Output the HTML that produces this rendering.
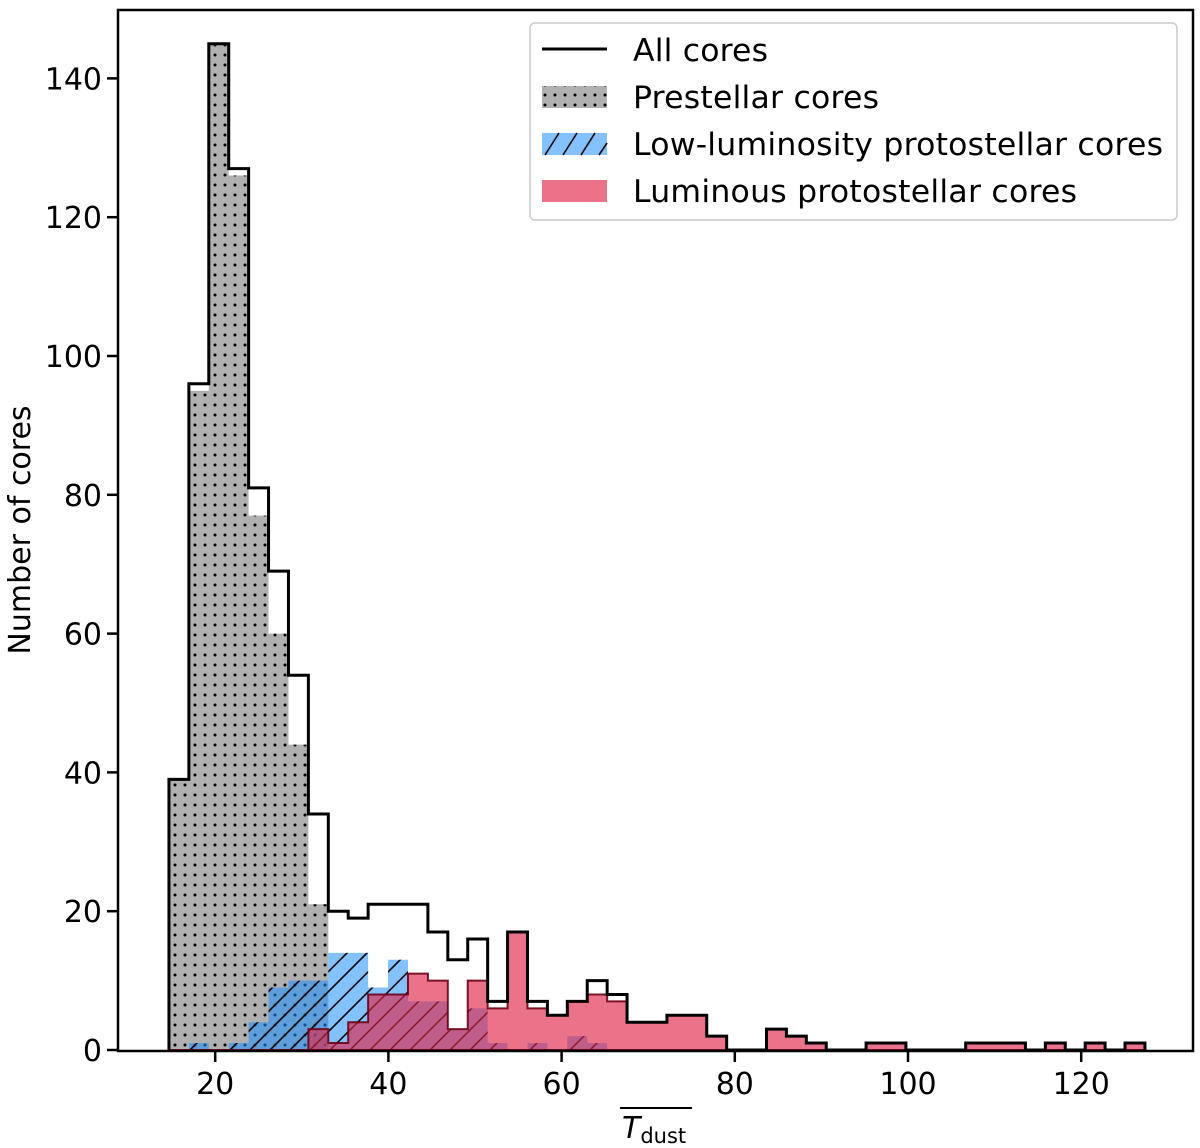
<!DOCTYPE html>
<html><head><meta charset="utf-8"><style>
html,body{margin:0;padding:0;background:#fff;}
svg{display:block;font-family:"DejaVu Sans","Liberation Sans",sans-serif;}
</style></head><body>
<svg id="chart" width="1200" height="1148" viewBox="0 0 1200 1148">
<defs>
<pattern id="dots" width="10" height="10" patternUnits="userSpaceOnUse"><circle cx="5" cy="5" r="1.5" fill="#000"/></pattern>
<pattern id="hatch" width="20" height="20" patternUnits="userSpaceOnUse"><path d="M-5,5 L5,-5 M0,20 L20,0 M15,25 L25,15" stroke="#000" stroke-width="1.6"/></pattern>
<pattern id="dotsL" width="10" height="10" patternUnits="userSpaceOnUse"><circle cx="5" cy="5" r="1.5" fill="#000"/></pattern>
</defs>
<g id="plot"></g>
</svg>
<script>
const binStart = 14.66;
const binWidth = 2.30;
const allCores = [39,96,145,127,81,69,54,34,20,19,21,21,21,17,13,16,7,17,7,5,7,10,8,4,4,5,5,2,0,0,3,2,1,0,0,1,1,0,0,0,1,1,1,0,1,0,1,0,1];
const prestellar = [39,95,145,126,77,60,44,21,0,0,0,0,0,0,0,0,0,0,0,0,0,0,0,0,0,0,0,0,0,0,0,0,0,0,0,0,0,0,0,0,0,0,0,0,0,0,0,0,0];
const lowLum = [0,1,0,1,4,9,10,10,14,14,9,13,7,7,3,6,1,0,1,0,2,1,0,0,0,0,0,0,0,0,0,0,0,0,0,0,0,0,0,0,0,0,0,0,0,0,0,0,0];
const luminous = [0,0,0,0,0,0,0,3,1,4,8,8,11,10,3,10,6,17,6,5,7,8,7,4,4,5,5,2,0,0,3,2,1,0,0,1,1,0,0,0,1,1,1,0,1,0,1,0,1];
const xTicks = [20,40,60,80,100,120];
const yTicks = [0,20,40,60,80,100,120,140];

const L=118,R=1193,T=10,B=1051;
const xs = v => 42 + v*8.66;
const ys = v => 1050 - v*6.94;
const NS="http://www.w3.org/2000/svg";
const g=document.getElementById('plot');
function mk(tag,attrs,parent){const e=document.createElementNS(NS,tag);for(const k in attrs)e.setAttribute(k,attrs[k]);(parent||g).appendChild(e);return e;}

function stepPath(vals){
  let d='M'+xs(binStart)+','+ys(0);
  vals.forEach((v,i)=>{const x0=xs(binStart+i*binWidth),x1=xs(binStart+(i+1)*binWidth);d+=' L'+x0+','+ys(v)+' L'+x1+','+ys(v);});
  d+=' L'+xs(binStart+vals.length*binWidth)+','+ys(0)+' Z';
  return d;
}
let p=mk('path',{d:stepPath(prestellar),fill:'#b0b0b0'});


mk('path',{d:stepPath(prestellar),fill:'url(#dots)'});
p=mk('path',{d:stepPath(lowLum),fill:'rgba(30,144,255,0.55)'});


mk('path',{d:stepPath(lowLum),fill:'url(#hatch)'});
p=mk('path',{d:stepPath(luminous),fill:'rgba(222,40,75,0.65)',stroke:'rgba(110,0,20,0.9)','stroke-width':2});


(function(){
  let d='M'+xs(binStart)+','+ys(0);
  allCores.forEach((v,i)=>{const x0=xs(binStart+i*binWidth),x1=xs(binStart+(i+1)*binWidth);d+=' L'+x0+','+ys(v)+' L'+x1+','+ys(v);});
  d+=' L'+xs(binStart+allCores.length*binWidth)+','+ys(0);
  const e=mk('path',{d:d,fill:'none',stroke:'#000','stroke-width':3,'stroke-linejoin':'miter'});
  
  
})();
let fr=mk('rect',{x:L,y:T,width:R-L,height:B-T,fill:'none',stroke:'#000','stroke-width':2.5});


xTicks.forEach(t=>{
  mk('line',{x1:xs(t),x2:xs(t),y1:B,y2:B+11,stroke:'#000','stroke-width':2.5});
  const tx=mk('text',{x:xs(t),y:B+43,'text-anchor':'middle','font-size':30});
  tx.textContent=t;
  
  
});
yTicks.forEach(t=>{
  mk('line',{x1:L-11,x2:L,y1:ys(t),y2:ys(t),stroke:'#000','stroke-width':2.5});
  const tx=mk('text',{x:L-16,y:ys(t)+11,'text-anchor':'end','font-size':30});
  tx.textContent=t;
  
  
});
</script>
<div style="position:absolute;left:0;top:0;width:1200px;height:1148px;pointer-events:none">
<svg width="1200" height="1148" style="position:absolute;left:0;top:0">
<text x="30" y="530" transform="rotate(-90 30 530)" text-anchor="middle" font-size="30" font-family="DejaVu Sans, Liberation Sans, sans-serif">Number of cores</text>
<g>
<line x1="620" x2="692" y1="1108" y2="1108" stroke="#000" stroke-width="2"/>
<text x="622" y="1138" font-size="30" font-style="italic" font-family="DejaVu Sans, Liberation Sans, sans-serif">T<tspan font-style="normal" font-size="21" dy="5">dust</tspan></text>
</g>
<g font-family="DejaVu Sans, Liberation Sans, sans-serif" font-size="31.5">
<rect x="530" y="23" width="647" height="197" rx="5" fill="#fff" fill-opacity="0.8" stroke="#ccc" stroke-width="1.5"/>
<g><line x1="542" x2="607" y1="49" y2="49" stroke="#000" stroke-width="3"/><text x="633" y="61" textLength="135">All cores</text></g>
<g><rect x="542" y="86" width="65" height="22" fill="#b0b0b0"/><rect x="542" y="86" width="65" height="22" fill="url(#dotsL)"/><text x="633" y="108" textLength="246">Prestellar cores</text></g>
<g><rect x="542" y="133" width="65" height="22" fill="rgba(30,144,255,0.55)"/><path d="M545,155 L559,133 M563,155 L577,133 M581,155 L595,133 M599,155 L607,143" stroke="#000" stroke-width="1.6"/><text x="633" y="155" textLength="530">Low-luminosity protostellar cores</text></g>
<g><rect x="542" y="180" width="65" height="22" fill="rgba(222,40,75,0.65)"/><text x="633" y="202" textLength="444">Luminous protostellar cores</text></g>
</g>
</svg>
</div>
</body></html>
